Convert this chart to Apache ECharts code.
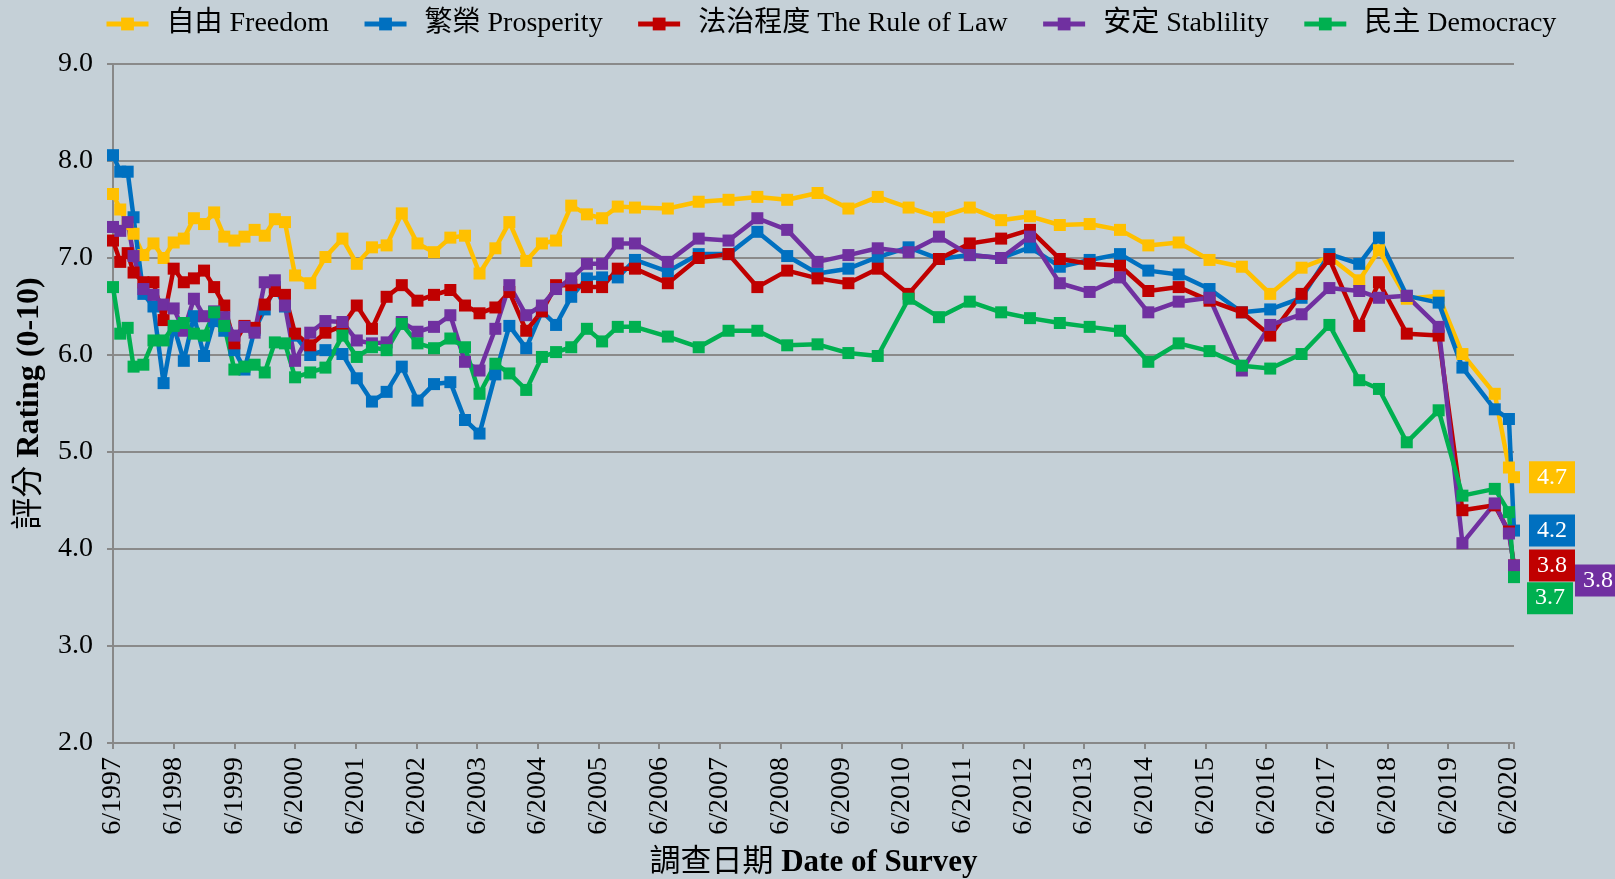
<!DOCTYPE html>
<html>
<head>
<meta charset="utf-8">
<script src="https://cdn.jsdelivr.net/npm/echarts@6/dist/echarts.min.js"></script>
<style>
  html, body { margin: 0; padding: 0; background: #c5d0d7; }
  #chart { width: 1615px; height: 879px; }
</style>
</head>
<body>
<div id="chart"></div>
<script>
// survey dates (approximate)
const surveyDates = [
  '1997-06-01', '1997-07-14', '1997-08-28', '1997-10-03', '1997-12-01', '1998-02-01', '1998-04-01', '1998-06-01',
  '1998-08-01', '1998-10-01', '1998-12-01', '1999-02-01', '1999-04-01', '1999-06-01', '1999-08-01', '1999-10-01',
  '1999-12-01', '2000-02-01', '2000-04-01', '2000-06-01', '2000-09-01', '2000-12-01', '2001-03-12', '2001-06-07',
  '2001-09-07', '2001-12-04', '2002-03-04', '2002-06-07', '2002-09-15', '2002-12-22', '2003-03-19', '2003-06-15',
  '2003-09-19', '2003-12-12', '2004-03-22', '2004-06-25', '2004-09-19', '2004-12-19', '2005-03-22', '2005-06-22',
  '2005-09-25', '2006-01-07', '2006-07-22', '2007-01-25', '2007-07-22', '2008-01-13', '2008-07-10', '2009-01-10',
  '2009-07-13', '2010-01-07', '2010-07-10', '2011-01-10', '2011-07-13', '2012-01-19', '2012-07-10', '2013-01-07',
  '2013-07-04', '2014-01-04', '2014-06-22', '2014-12-22', '2015-06-25', '2016-01-07', '2016-06-25', '2017-01-01',
  '2017-06-16', '2017-12-13', '2018-04-10', '2018-09-25', '2019-04-04', '2019-08-25', '2020-03-07', '2020-06-01',
  '2020-07-01'
]

const freedom = [
  7.66, 7.50, 7.35, 7.25, 7.03, 7.15, 7.00, 7.16, 7.20, 7.41, 7.35, 7.47, 7.22, 7.18, 7.22, 7.29,
  7.23, 7.40, 7.37, 6.82, 6.74, 7.01, 7.20, 6.94, 7.11, 7.13, 7.46, 7.15, 7.06, 7.21, 7.23, 6.84,
  7.10, 7.37, 6.97, 7.15, 7.18, 7.54, 7.45, 7.41, 7.53, 7.52, 7.51, 7.58, 7.60, 7.63, 7.60, 7.67,
  7.51, 7.63, 7.52, 7.42, 7.52, 7.39, 7.43, 7.34, 7.35, 7.29, 7.13, 7.16, 6.98, 6.91, 6.63, 6.90,
  7.01, 6.77, 7.08, 6.58, 6.61, 6.01, 5.60, 4.84, 4.74
]
const prosperity = [
  8.06, 7.89, 7.89, 7.42, 6.63, 6.50, 5.71, 6.30, 5.94, 6.40, 5.99, 6.35, 6.25, 6.05, 5.85, 6.26,
  6.47, 6.70, 6.50, 6.20, 6.00, 6.05, 6.01, 5.76, 5.52, 5.62, 5.88, 5.53, 5.70, 5.72, 5.33, 5.19,
  5.80, 6.30, 6.07, 6.45, 6.31, 6.60, 6.79, 6.80, 6.80, 6.98, 6.86, 7.04, 7.04, 7.27, 7.02, 6.84,
  6.89, 7.01, 7.11, 6.99, 7.03, 7.00, 7.11, 6.91, 6.98, 7.04, 6.87, 6.83, 6.68, 6.44, 6.47, 6.59,
  7.04, 6.94, 7.21, 6.61, 6.54, 5.87, 5.44, 5.34, 4.19
]
const ruleOfLaw = [
  7.18, 6.96, 7.05, 6.85, 6.75, 6.75, 6.36, 6.89, 6.75, 6.79, 6.87, 6.70, 6.51, 6.12, 6.30, 6.28,
  6.52, 6.66, 6.62, 6.22, 6.10, 6.23, 6.30, 6.51, 6.27, 6.60, 6.72, 6.56, 6.62, 6.67, 6.51, 6.43,
  6.49, 6.65, 6.25, 6.45, 6.72, 6.72, 6.70, 6.70, 6.89, 6.89, 6.74, 7.00, 7.04, 6.70, 6.87, 6.79,
  6.74, 6.89, 6.63, 6.99, 7.15, 7.20, 7.29, 6.99, 6.94, 6.92, 6.66, 6.70, 6.56, 6.44, 6.20, 6.63,
  6.99, 6.30, 6.75, 6.22, 6.20, 4.40, 4.45, 4.18, 3.83
]
const stability = [
  7.32, 7.28, 7.37, 7.02, 6.68, 6.62, 6.52, 6.48, 6.25, 6.58, 6.40, 6.45, 6.39, 6.20, 6.29, 6.23,
  6.75, 6.77, 6.51, 5.94, 6.23, 6.35, 6.34, 6.15, 6.12, 6.13, 6.34, 6.24, 6.29, 6.41, 5.93, 5.84,
  6.27, 6.72, 6.41, 6.51, 6.68, 6.79, 6.94, 6.94, 7.15, 7.15, 6.96, 7.20, 7.18, 7.41, 7.29, 6.96,
  7.03, 7.10, 7.06, 7.22, 7.03, 7.00, 7.22, 6.74, 6.65, 6.80, 6.44, 6.55, 6.59, 5.84, 6.31, 6.42,
  6.69, 6.66, 6.59, 6.61, 6.29, 4.06, 4.47, 4.16, 3.83
]
const democracy = [
  6.70, 6.22, 6.28, 5.88, 5.90, 6.15, 6.15, 6.30, 6.33, 6.22, 6.20, 6.44, 6.30, 5.85, 5.88, 5.90,
  5.82, 6.13, 6.12, 5.77, 5.82, 5.87, 6.20, 5.98, 6.08, 6.05, 6.32, 6.12, 6.07, 6.17, 6.08, 5.60,
  5.91, 5.81, 5.64, 5.98, 6.03, 6.08, 6.27, 6.14, 6.29, 6.29, 6.19, 6.08, 6.25, 6.25, 6.10, 6.11,
  6.02, 5.99, 6.58, 6.39, 6.55, 6.44, 6.38, 6.33, 6.29, 6.25, 5.93, 6.12, 6.04, 5.89, 5.86, 6.01,
  6.31, 5.74, 5.65, 5.10, 5.43, 4.55, 4.62, 4.38, 3.71
]

const FONT = '"Liberation Serif", "Times New Roman", "Noto Sans CJK TC", serif'

// months after 6/1997
function monthsSince(d) {
  const [y, m, day] = d.split('-').map(Number)
  return (y - 1997) * 12 + (m - 6) + (day - 1) / 30
}

const seriesDefs = [
  { name: '自由 Freedom', values: freedom, color: '#ffc000', labelOffset: [0, 0] },
  { name: '繁榮 Prosperity', values: prosperity, color: '#0070c0', labelOffset: [0, 0] },
  { name: '法治程度 The Rule of Law', values: ruleOfLaw, color: '#c00000', labelOffset: [0, 0] },
  { name: '安定 Stablility', values: stability, color: '#7030a0', labelOffset: [46, 15] },
  { name: '民主 Democracy', values: democracy, color: '#00b050', labelOffset: [-2, 21] }
]

function makeSeries(def) {
  const data = surveyDates.map((d, i) => [monthsSince(d), def.values[i]])
  const last = data.length - 1
  data[last] = {
    value: data[last],
    label: {
      show: true,
      position: 'right',
      distance: 9,
      offset: def.labelOffset,
      formatter: p => p.value[1].toFixed(1),
      color: '#fff',
      backgroundColor: def.color,
      padding: [4, 8, 3, 8],
      fontSize: 24,
      lineHeight: 25,
      fontFamily: FONT
    }
  }
  return {
    name: def.name,
    type: 'line',
    data: data,
    symbol: 'rect',
    symbolSize: 12,
    color: def.color,
    lineStyle: { width: 4.5, color: def.color },
    itemStyle: { color: def.color },
    emphasis: { disabled: true }
  }
}

const chart = echarts.init(document.getElementById('chart'), null, { renderer: 'canvas' })
chart.setOption({
  animation: false,
  backgroundColor: '#c5d0d7',
  textStyle: { fontFamily: FONT },
  legend: {
    top: 5,
    left: 99,
    itemWidth: 42,
    itemHeight: 16,
    itemGap: 33,
    lineStyle: { width: 5 },
    textStyle: { fontSize: 28, color: '#000', fontFamily: FONT, padding: [0, 0, 0, 13] }
  },
  grid: { left: 113, right: 101, top: 64, bottom: 136, outerBoundsMode: 'none' },
  xAxis: {
    type: 'value',
    min: 0,
    max: 277,
    interval: 12,
    axisLine: { show: true, lineStyle: { color: '#888', width: 2 } },
    axisTick: { show: true, length: 6, lineStyle: { color: '#888', width: 2 } },
    splitLine: { show: false },
    axisLabel: {
      rotate: 90,
      margin: 14,
      fontSize: 28,
      color: '#000',
      fontFamily: FONT,
      formatter: v => (v % 12 === 0 ? '6/' + (1997 + v / 12) : '')
    },
    name: '{c|調查日期 }{b|Date of Survey}',
    nameLocation: 'middle',
    nameGap: 104,
    nameTextStyle: {
      rich: {
        c: { fontSize: 31, color: '#000', fontFamily: FONT },
        b: { fontSize: 31, fontWeight: 'bold', color: '#000', fontFamily: FONT }
      }
    }
  },
  yAxis: {
    type: 'value',
    min: 2,
    max: 9,
    interval: 1,
    axisLine: { show: true, lineStyle: { color: '#888', width: 2 } },
    axisTick: { show: true, length: 6, lineStyle: { color: '#888', width: 2 } },
    splitLine: { show: true, lineStyle: { color: '#8a8a8a', width: 2 } },
    axisLabel: {
      margin: 20,
      fontSize: 28,
      color: '#000',
      fontFamily: FONT,
      formatter: v => v.toFixed(1)
    },
    name: '{c|評分 }{b|Rating (0-10)}',
    nameLocation: 'middle',
    nameGap: 67,
    nameTextStyle: {
      rich: {
        c: { fontSize: 32, color: '#000', fontFamily: FONT },
        b: { fontSize: 32, fontWeight: 'bold', color: '#000', fontFamily: FONT }
      }
    }
  },
  series: seriesDefs.map(makeSeries)
})
</script>
</body>
</html>
